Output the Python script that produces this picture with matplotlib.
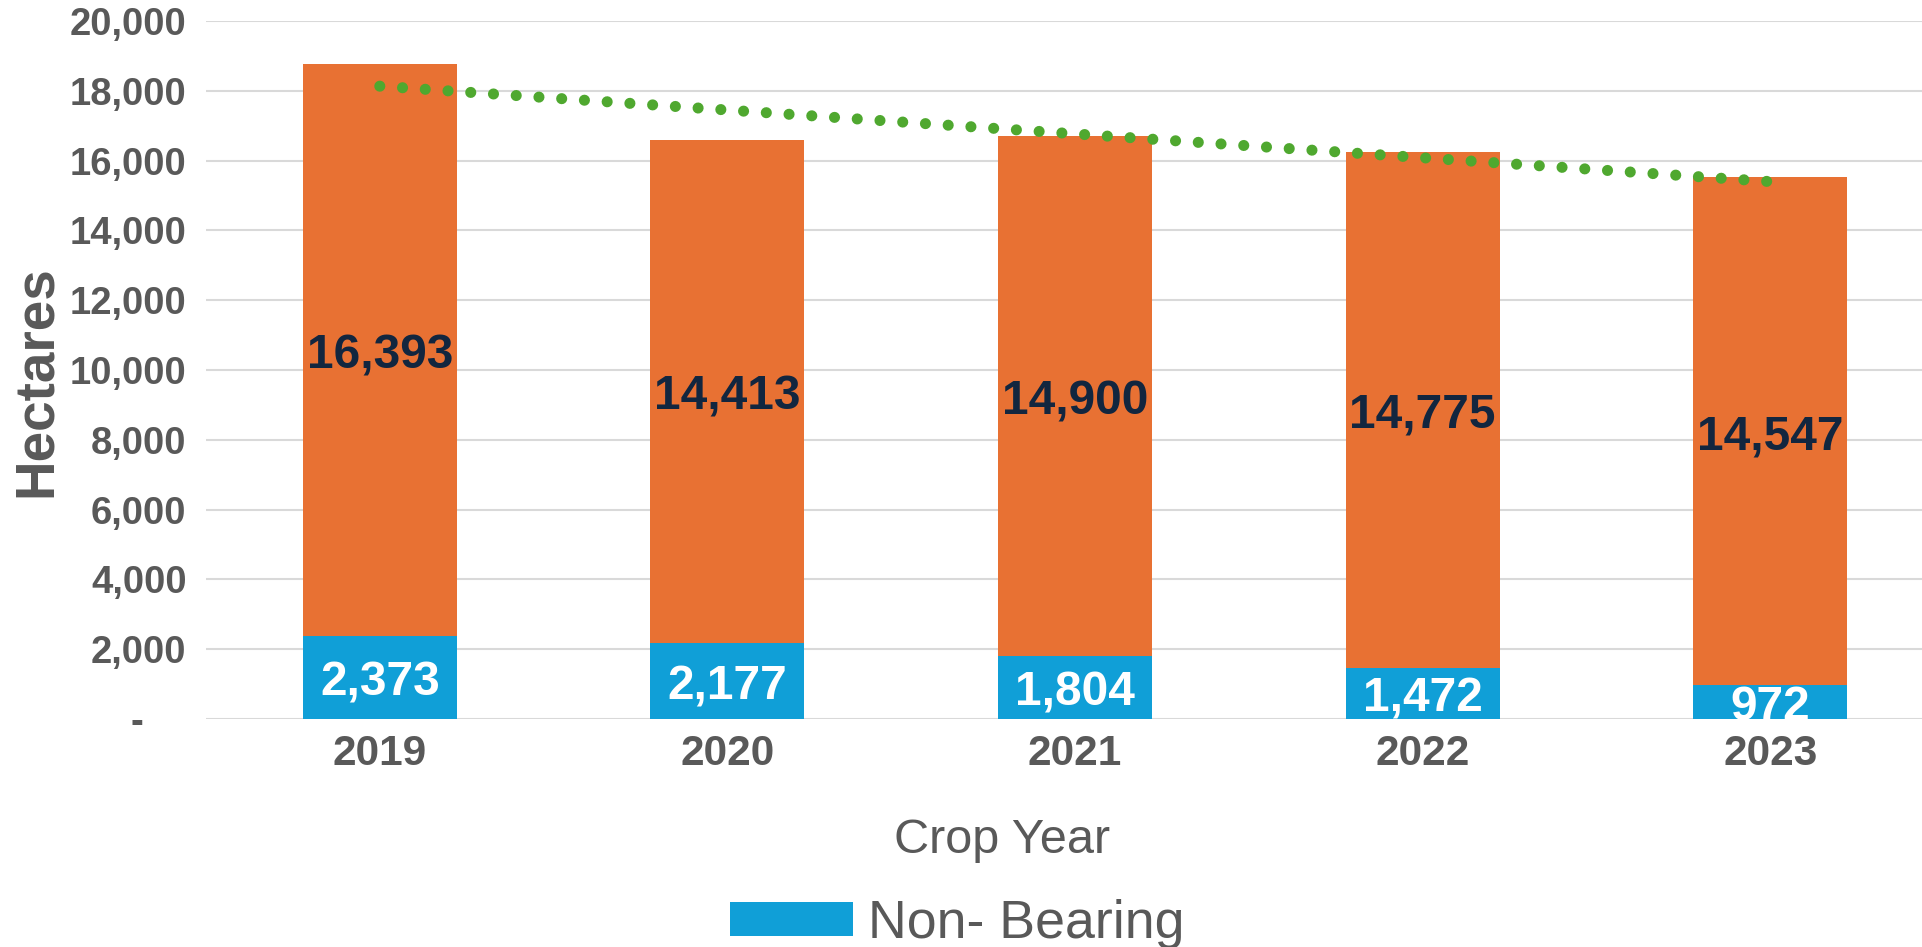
import matplotlib
import numpy as np

matplotlib.use("Agg")
from matplotlib import pyplot as plt  # noqa: E402

YEARS = ["2019", "2020", "2021", "2022", "2023"]
NON_BEARING = [2373, 2177, 1804, 1472, 972]
BEARING = [16393, 14413, 14900, 14775, 14547]
Y_TICKS = [0, 2000, 4000, 6000, 8000, 10000, 12000, 14000, 16000, 18000, 20000]

BLUE = "#109FD7"
ORANGE = "#E87133"
GREEN = "#4FA82F"
NAVY = "#12263F"
GREY = "#595959"
GRID = "#D9D9D9"

plt.rcParams["font.family"] = ["Liberation Sans", "DejaVu Sans"]

W, H = 1922, 947
fig = plt.figure(figsize=(W / 100, H / 100), dpi=100)
ax = fig.add_axes((206 / W, 1 - 719 / H, (1944 - 206) / W, (719 - 21) / H))

x = np.arange(len(YEARS))
width = 0.443
non_bearing = np.array(NON_BEARING)
bearing = np.array(BEARING)

blue_bars = ax.bar(x, non_bearing, width, color=BLUE, label="Non- Bearing", zorder=2)
orange_bars = ax.bar(x, bearing, width, bottom=non_bearing, color=ORANGE, zorder=2)

for i in range(len(x)):
    ax.annotate(f"{non_bearing[i]:,}", (x[i], non_bearing[i] / 2), xytext=(0, -4),
                textcoords="offset points", ha="center", va="center",
                color="white", fontsize=34.5, fontweight="bold", zorder=4)
    ax.annotate(f"{bearing[i]:,}", (x[i], non_bearing[i] + bearing[i] / 2),
                xytext=(0, -4), textcoords="offset points", ha="center",
                va="center", color=NAVY, fontsize=34.5, fontweight="bold", zorder=4)

# linear trendline of the totals, like the spreadsheet one
totals = non_bearing + bearing
slope, intercept = np.polyfit(x, totals, 1)
ax.plot(x, slope * x + intercept, color=GREEN, linewidth=8, linestyle=(0, (0.001, 2.05)),
        dash_capstyle="round", zorder=3)

ax.set_xlim(-0.5, len(YEARS) - 0.5)
ax.set_ylim(0, 20000)
ax.set_yticks(Y_TICKS)
ax.set_yticklabels(["-    "] + [f"{v:,}" for v in Y_TICKS[1:]])
ax.set_xticks(x, labels=YEARS)
ax.tick_params(axis="y", length=0, pad=14, labelsize=27.5, labelcolor=GREY)
ax.tick_params(axis="x", length=0, pad=11, labelsize=30.5, labelcolor=GREY)
for label in ax.get_xticklabels() + ax.get_yticklabels():
    label.set_fontweight("bold")

ax.grid(axis="y", color=GRID, linewidth=1.5, zorder=0)
ax.set_axisbelow(True)
for spine in ax.spines.values():
    spine.set_visible(False)

fig.text(37 / W, 1 - 381 / H, "Hectares", rotation=90, ha="center", va="center",
         fontsize=39.5, fontweight="bold", color=GREY)
fig.text(1002 / W, 1 - 840 / H, "Crop Year", ha="center", va="center",
         fontsize=35, color=GREY)

fig.legend(handles=[blue_bars], labels=["Non- Bearing"], loc="center",
           bbox_to_anchor=(957 / W, 1 - 924 / H), frameon=False, fontsize=38.7,
           labelcolor=GREY, handlelength=2.3, handleheight=0.58, handletextpad=0.27,
           borderpad=0, borderaxespad=0)

fig.savefig("out.png", dpi=100, facecolor="white")
